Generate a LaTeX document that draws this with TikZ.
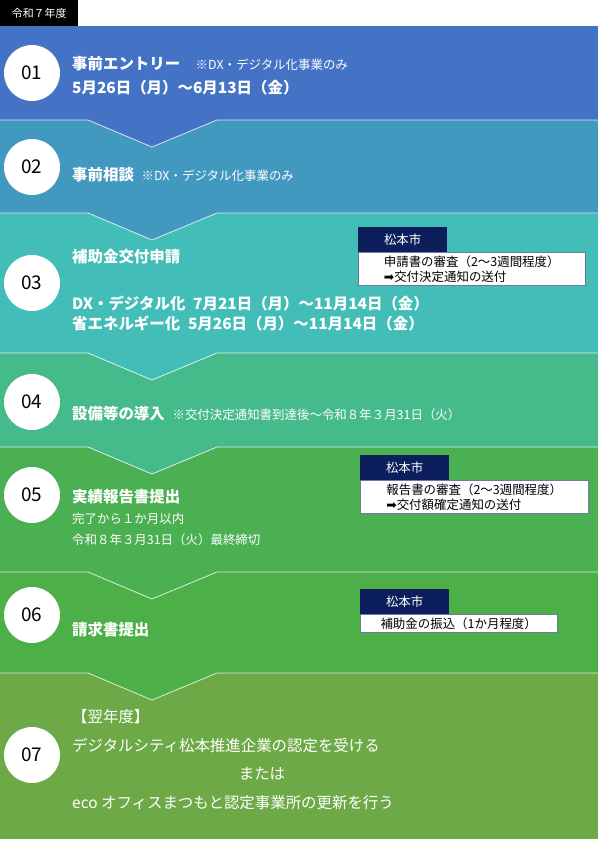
\documentclass[tikz,border=0pt]{standalone}
\usepackage{fontspec}
\setmainfont{Noto Sans CJK JP}
\newfontfamily\arrowfont{DejaVu Sans}
\newcommand{\jpbold}{\bfseries}
\newcommand{\fatarrow}{{\arrowfont ➡}}
\usetikzlibrary{positioning}
\definecolor{bandA}{HTML}{4472C4}
\definecolor{bandB}{HTML}{4299C0}
\definecolor{bandC}{HTML}{43BDB8}
\definecolor{bandD}{HTML}{45BA8A}
\definecolor{bandE}{HTML}{4BB052}
\definecolor{bandF}{HTML}{4CAF48}
\definecolor{bandG}{HTML}{6DAA47}
\definecolor{cityblue}{HTML}{0C1F5C}
\newcommand{\numsize}{\fontsize{19}{22}\selectfont}
\newcommand{\ttlsize}{\fontsize{15.5}{19}\selectfont}
\newcommand{\notesize}{\fontsize{12.5}{15}\selectfont}

\begin{document}
\begin{tikzpicture}[x=1bp,y=-1bp,
    numdot/.style={draw=none, fill=white, circle, minimum size=56bp, inner sep=0pt, font=\numsize},
    ttl/.style={anchor=west, text=white, inner sep=0pt, font=\ttlsize},
    note/.style={anchor=west, text=white, inner sep=0pt, font=\notesize},
    citytag/.style={anchor=north west, fill=cityblue, text=white, minimum width=89bp, minimum height=25bp, inner sep=0pt, font=\notesize},
    citybox/.style={anchor=north west, fill=white, draw=cityblue!60, align=left, inner sep=3pt, font=\notesize}]

      \useasboundingbox (0,0) rectangle (600,843);
      \fill[white] (0,0) rectangle (600,843);

      % bands: top/bottom/colour
      \foreach \top/\bot/\col in {26/120/bandA, 120/213/bandB, 213/353/bandC,
          353/447/bandD, 447/572/bandE, 572/673/bandF, 673/839/bandG}
        \fill[\col] (0,\top) rectangle (598,\bot);
      % chevrons
      \foreach \bot/\col in {120/bandA, 213/bandB, 353/bandC, 447/bandD, 572/bandE, 673/bandF}{
        \fill[\col] (88,\bot) -- (152,\bot+27) -- (217,\bot) -- cycle;
        \draw[white!80!\col, line width=0.8pt] (0,\bot) -- (88,\bot) -- (152,\bot+27) -- (217,\bot) -- (598,\bot);
      }

      \node (year) at (0,0) [anchor=north west, fill=black, text=white, minimum width=78bp, minimum height=26bp, inner sep=0pt, font=\fontsize{11}{13}\selectfont] {令和７年度};

      \node (c01) at (32,73)  [numdot] {01};
      \node (c02) at (32,167) [numdot] {02};
      \node (c03) at (32,283) [numdot] {03};
      \node (c04) at (32,402) [numdot] {04};
      \node (c05) at (32,495) [numdot] {05};
      \node (c06) at (32,615) [numdot] {06};
      \node (c07) at (32,755) [numdot] {07};

      \node (t01) at (72,64)  [ttl] {{\jpbold 事前エントリー}\quad{\notesize ※DX・デジタル化事業のみ}};
      \node (t01b) at (72,88) [ttl] {\jpbold 5月26日（月）～6月13日（金）};
      \node (t02) at (72,175) [ttl] {{\jpbold 事前相談}\enspace{\notesize ※DX・デジタル化事業のみ}};
      \node (t03) at (72,257) [ttl] {\jpbold 補助金交付申請};
      \node (t03b) at (72,304) [ttl] {\jpbold DX・デジタル化\enspace 7月21日（月）～11月14日（金）};
      \node (t03c) at (72,324) [ttl] {\jpbold 省エネルギー化\enspace 5月26日（月）～11月14日（金）};
      \node (t04) at (72,414) [ttl] {{\jpbold 設備等の導入}\enspace{\notesize ※交付決定通知書到達後～令和８年３月31日（火）}};
      \node (t05) at (72,497) [ttl] {\jpbold 実績報告書提出};
      \node (t05b) at (72,519) [note] {完了から１か月以内};
      \node (t05c) at (72,540) [note] {令和８年３月31日（火）最終締切};
      \node (t06) at (72,630) [ttl] {\jpbold 請求書提出};
      \node (t07) at (72,717) [ttl] {【翌年度】};
      \node (t07b) at (72,746) [ttl] {デジタルシティ松本推進企業の認定を受ける};
      \node (t07c) at (262,774) [ttl, anchor=center] {または};
      \node (t07d) at (72,803) [ttl] {eco オフィスまつもと認定事業所の更新を行う};

      \node (tag3) at (358,227) [citytag] {松本市};
      \node (box3) [citybox, below=0pt of tag3.south west, anchor=north west, minimum width=227bp] {申請書の審査（2～3週間程度）\\\fatarrow 交付決定通知の送付};
      \node (tag5) at (360,455) [citytag] {松本市};
      \node (box5) [citybox, below=0pt of tag5.south west, anchor=north west, minimum width=228bp] {報告書の審査（2～3週間程度）\\\fatarrow 交付額確定通知の送付};
      \node (tag6) at (360,589) [citytag] {松本市};
      \node (box6) [citybox, below=0pt of tag6.south west, anchor=north west, minimum width=197bp] {補助金の振込（1か月程度）};
    \end{tikzpicture}
\end{document}
